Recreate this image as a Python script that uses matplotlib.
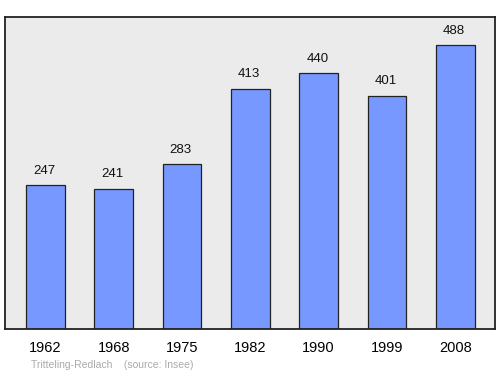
import matplotlib
matplotlib.use("Agg")
import matplotlib.pyplot as plt

years = ["1962", "1968", "1975", "1982", "1990", "1999", "2008"]
population = [247, 241, 283, 413, 440, 401, 488]

plt.rcParams['font.family'] = ['Liberation Sans', 'DejaVu Sans']

fig = plt.figure(figsize=(5.0, 3.74), dpi=100)
ax = fig.add_axes([5/500, 1 - 329/374, 490/500, 312/374])
ax.set_facecolor('#ebebeb')
x = list(range(len(years)))
bars = ax.bar(x, population, width=0.57, color='#7799ff', edgecolor='#222222', linewidth=0.9, zorder=2)
for xi, v in zip(x, population):
    ax.annotate(str(v), (xi, v), xytext=(-1, 6), textcoords='offset points',
                ha='center', va='bottom', fontsize=9.5, color='#111111')
ax.set_xlim(-0.59, 6.58)
ax.set_ylim(0, 536)
ax.set_xticks(x)
ax.set_xticklabels(years, fontsize=10.5)
ax.tick_params(axis='x', length=0, pad=9)
ax.set_yticks([])
for s in ax.spines.values():
    s.set_linewidth(1.3)
    s.set_color('#222222')
fig.text(31/500, 1 - 365/374, "Tritteling-Redlach    (source: Insee)", fontsize=7.5,
         color='#aaaaaa', ha='left', va='center')
fig.savefig("out.png", dpi=100)
